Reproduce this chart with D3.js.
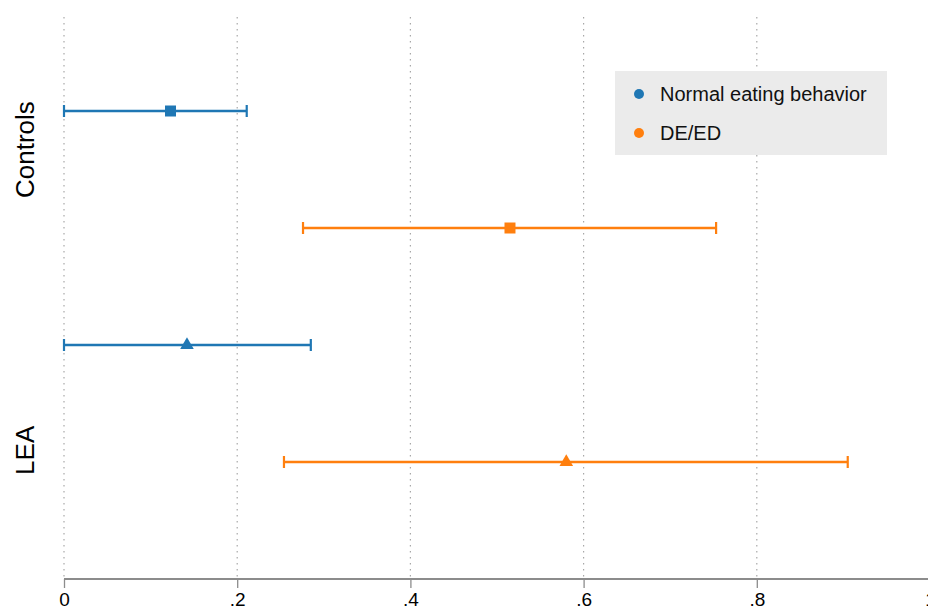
<!DOCTYPE html>
<html>
<head>
<meta charset="utf-8">
<script src="https://cdn.jsdelivr.net/npm/d3@7"></script>
<style>
  body { margin: 0; background: #fff; }
  svg { display: block; font-family: "Liberation Sans", Arial, sans-serif; }
</style>
</head>
<body>
<div id="chart"></div>
<script>
// data
var rows = ["Controls|Normal", "Controls|DEED", "LEA|Normal", "LEA|DEED"];
var groups = ["Controls", "LEA"];
var seriesNames = ["Normal eating behavior", "DE/ED"];
var estimates = [0.123, 0.515, 0.142, 0.580];
var lowerCI = [0.0, 0.276, 0.0, 0.254];
var upperCI = [0.211, 0.753, 0.285, 0.905];
var rowSeries = [0, 1, 0, 1];
var rowGroup = [0, 0, 1, 1];
var xTicks = [0, 0.2, 0.4, 0.6, 0.8, 1];
var xTickLabels = ["0", ".2", ".4", ".6", ".8", "1"];

var colors = ["#1f77b4", "#ff7f0e"];

var width = 928, height = 609;
var margin = { top: 17, left: 64, bottom: 30 };
var axisY = 579;

var svg = d3.select("#chart").append("svg")
    .attr("width", width)
    .attr("height", height);

var x = d3.scaleLinear().domain([0, 1]).range([margin.left, 930]);
var y = d3.scaleBand().domain(rows).range([52.5, 520.5]);

// grid lines
svg.append("g")
    .selectAll("line")
    .data(xTicks)
    .enter().append("line")
    .attr("x1", function (d) { return x(d); })
    .attr("x2", function (d) { return x(d); })
    .attr("y1", margin.top)
    .attr("y2", axisY)
    .style("stroke", "#a8a8a8")
    .style("stroke-width", 1.2)
    .style("stroke-dasharray", "1.5,4.5");

// x axis
var xAxis = svg.append("g")
    .attr("transform", "translate(0," + axisY + ")")
    .call(d3.axisBottom(x)
        .tickValues(xTicks)
        .tickSize(9)
        .tickPadding(5)
        .tickFormat(function (d, i) { return xTickLabels[i]; }));
xAxis.select(".domain")
    .attr("d", "M" + x(0) + ",0H" + width)
    .style("stroke", "#8c8c8c")
    .style("stroke-width", 2);
xAxis.selectAll(".tick line").style("stroke", "#8c8c8c").style("stroke-width", 1.3);
xAxis.selectAll(".tick text")
    .style("font-size", "19px")
    .style("fill", "#000")
    .style("font-family", "'Liberation Sans', Arial, sans-serif");

// group labels
var groupLabelY = [y(rows[0]) + y.bandwidth() * 0.83, y(rows[3]) + y.bandwidth() * 0.4];
svg.append("g")
    .selectAll("text")
    .data(groups)
    .enter().append("text")
    .attr("transform", function (d, i) { return "translate(34," + groupLabelY[i] + ") rotate(-90)"; })
    .attr("text-anchor", "middle")
    .style("font-size", "26px")
    .style("fill", "#000")
    .text(function (d) { return d; });

// error bars
var bars = svg.append("g")
    .selectAll("g")
    .data(rows)
    .enter().append("g")
    .attr("transform", function (d) { return "translate(0," + (y(d) + y.bandwidth() / 2) + ")"; })
    .style("stroke", function (d, i) { return colors[rowSeries[i]]; });

bars.append("line")
    .attr("x1", function (d, i) { return x(lowerCI[i]); })
    .attr("x2", function (d, i) { return x(upperCI[i]); })
    .style("stroke-width", 2.7);

bars.append("line")
    .attr("x1", function (d, i) { return x(lowerCI[i]); })
    .attr("x2", function (d, i) { return x(lowerCI[i]); })
    .attr("y1", -6).attr("y2", 6)
    .style("stroke-width", 2.2);

bars.append("line")
    .attr("x1", function (d, i) { return x(upperCI[i]); })
    .attr("x2", function (d, i) { return x(upperCI[i]); })
    .attr("y1", -6).attr("y2", 6)
    .style("stroke-width", 2.2);

// point estimates: squares for Controls, triangles for LEA
bars.append("path")
    .attr("transform", function (d, i) { return "translate(" + x(estimates[i]) + ",0)"; })
    .attr("d", function (d, i) {
        return rowGroup[i] === 0
            ? d3.symbol().type(d3.symbolSquare).size(121)()
            : d3.symbol().type(d3.symbolTriangle).size(80)();
    })
    .style("stroke", "none")
    .style("fill", function (d, i) { return colors[rowSeries[i]]; });

// legend
var legend = svg.append("g").attr("transform", "translate(615,71)");
legend.append("rect")
    .attr("width", 272)
    .attr("height", 84)
    .style("fill", "#ebebeb");

var items = legend.selectAll("g")
    .data(seriesNames)
    .enter().append("g")
    .attr("transform", function (d, i) { return "translate(0," + (23 + i * 39) + ")"; });
items.append("circle")
    .attr("cx", 24)
    .attr("r", 5)
    .style("fill", function (d, i) { return colors[i]; });
items.append("text")
    .attr("x", 45)
    .attr("dy", "0.36em")
    .style("font-size", "20px")
    .style("fill", "#111")
    .text(function (d) { return d; });
</script>
</body>
</html>
